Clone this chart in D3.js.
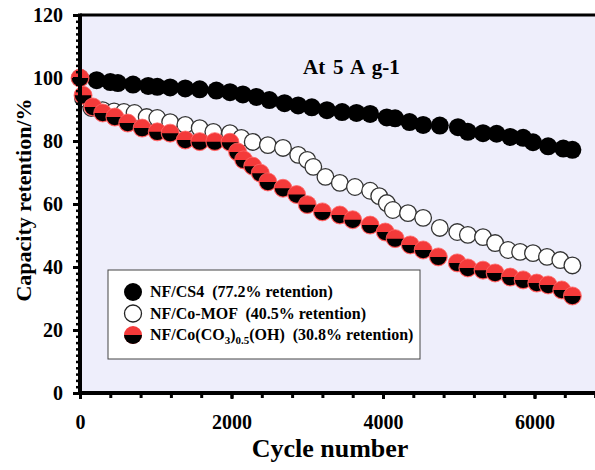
<!DOCTYPE html>
<html><head><meta charset="utf-8">
<script src="https://cdn.jsdelivr.net/npm/d3@7"></script>
<style>
html,body{margin:0;padding:0;background:#fff;}
svg{display:block;}
text{font-family:"Liberation Serif","Times New Roman",serif;font-weight:bold;}
</style></head>
<body>
<svg id="chart" width="595" height="470"></svg>
<script>
// ---- data ----
const xTicks = [0, 2000, 4000, 6000];
const yTicks = [0, 20, 40, 60, 80, 100, 120];

const cs4Cycles = [0,220,400,500,700,900,1020,1190,1390,1580,1800,1980,2150,2330,2500,2700,2880,3060,3260,3460,3650,3830,4050,4160,4350,4530,4750,4990,5120,5320,5500,5680,5850,5980,6180,6380,6500];
const cs4Values = [100,99.3,98.7,98.4,97.9,97.5,97.2,97.0,96.7,96.4,96.0,95.5,94.8,94.0,93.0,92.0,91.3,90.7,89.8,89.2,88.9,88.6,87.5,87.2,86.0,85.1,84.9,84.4,82.9,82.5,82.3,81.3,81.0,79.6,78.3,77.6,77.2];

const mofCycles = [40,150,300,450,580,720,880,1020,1190,1390,1580,1760,1980,2130,2280,2480,2680,2880,3000,3080,3240,3430,3630,3830,3950,4050,4130,4330,4530,4750,4980,5120,5320,5480,5650,5810,5980,6165,6340,6500];
const mofValues = [93.5,90.5,89.8,89.4,89.2,88.9,87.6,87.3,86.0,85.1,84.1,82.9,82.5,81.0,79.7,78.7,77.8,75.6,74.0,71.8,68.6,66.7,65.4,64.2,62.5,60.3,58.1,57.1,55.6,52.4,51.1,50.2,49.5,47.6,45.4,44.8,44.4,43.2,42.2,40.5];

const cohCycles = [0,40,170,300,460,630,820,1020,1190,1390,1580,1780,1980,2080,2160,2280,2380,2480,2680,2860,3000,3200,3430,3600,3830,4030,4160,4360,4530,4730,4980,5120,5320,5480,5680,5850,6030,6180,6360,6500];
const cohValues = [100,94.5,90.8,88.9,87.6,85.7,84.1,82.9,82.5,80.3,79.8,79.8,79.6,76.5,74.0,72.0,69.8,67.0,65.0,63.0,59.8,57.5,56.5,55.0,53.3,51.1,49.0,47.0,45.4,43.2,41.3,39.7,39.0,38.1,36.8,35.9,34.9,34.3,32.7,30.8];

const legendLabels = ["NF/CS4  (77.2% retention)", "NF/Co-MOF  (40.5% retention)", "NF/Co(CO3)0.5(OH)  (30.8% retention)"];
const annotation = "At 5 A g-1";

// ---- layout ----
const svg = d3.select("#chart");
const pLeft = 80, pTop = 15, pBottom = 393;
const x = d3.scaleLinear().domain([0, 7000]).range([pLeft, pLeft + 7000 * 0.07575]);
const y = d3.scaleLinear().domain([0, 120]).range([pBottom, pTop]);
const R = 9;

svg.append("rect").attr("x", pLeft).attr("y", pTop).attr("width", 600 - pLeft).attr("height", pBottom - pTop).attr("fill", "#eeeefb");

const zip = (a, b) => a.map((c, i) => [c, b[i]]);
const cs4 = zip(cs4Cycles, cs4Values), mof = zip(mofCycles, mofValues), coh = zip(cohCycles, cohValues);

// series
svg.append("g").selectAll("circle").data(cs4).join("circle")
  .attr("cx", d => x(d[0])).attr("cy", d => y(d[1])).attr("r", R)
  .attr("fill", "#000");
svg.append("g").selectAll("circle").data(mof).join("circle")
  .attr("cx", d => x(d[0])).attr("cy", d => y(d[1])).attr("r", R - 0.7)
  .attr("fill", "#fff").attr("stroke", "#333").attr("stroke-width", 1.3);
const halfArc = d3.arc().innerRadius(0).outerRadius(R - 0.8).startAngle(Math.PI / 2).endAngle(3 * Math.PI / 2);
const gCoh = svg.append("g");
const cohG = gCoh.selectAll("g").data(coh).join("g")
  .attr("transform", d => `translate(${x(d[0])},${y(d[1])})`);
cohG.append("circle").attr("r", R).attr("fill", "#f43a3a").attr("stroke", "#f66").attr("stroke-width", 0.8);
cohG.append("path").attr("d", halfArc).attr("fill", "#000");

// axes
const xMinor = d3.range(0, 6801, 400);
const yMinor = d3.range(0, 121, 2);
svg.append("g").attr("transform", `translate(0,${pBottom})`)
  .call(d3.axisBottom(x).tickValues(xMinor).tickSize(5).tickFormat(""))
  .call(g => g.select(".domain").remove())
  .call(g => g.selectAll("line").attr("stroke-width", 3));
svg.append("g").attr("transform", `translate(${pLeft},0)`)
  .call(d3.axisLeft(y).tickValues(yMinor).tickSize(4).tickFormat(""))
  .call(g => g.select(".domain").remove())
  .call(g => g.selectAll("line").attr("stroke-width", 2.5));
const xAx = svg.append("g").attr("transform", `translate(0,${pBottom})`)
  .call(d3.axisBottom(x).tickValues(xTicks).tickSize(6).tickPadding(16).tickFormat(d3.format("d")))
  .call(g => g.select(".domain").remove());
xAx.selectAll("line").attr("stroke-width", 3);
xAx.selectAll("text").attr("font-size", 20).attr("fill", "#000").style("font-family", '"Liberation Serif",serif').style("font-weight", "bold");
const yAx = svg.append("g").attr("transform", `translate(${pLeft},0)`)
  .call(d3.axisLeft(y).tickValues(yTicks).tickSize(7).tickPadding(10))
  .call(g => g.select(".domain").remove());
yAx.selectAll("line").attr("stroke-width", 3);
yAx.selectAll("text").attr("font-size", 20).attr("fill", "#000").style("font-family", '"Liberation Serif",serif').style("font-weight", "bold");

// frame
svg.append("line").attr("x1", pLeft).attr("x2", 600).attr("y1", pTop).attr("y2", pTop).attr("stroke", "#000").attr("stroke-width", 3);
svg.append("line").attr("x1", pLeft).attr("x2", 600).attr("y1", pBottom).attr("y2", pBottom).attr("stroke", "#000").attr("stroke-width", 4);
svg.append("line").attr("x1", pLeft).attr("x2", pLeft).attr("y1", pTop - 1.5).attr("y2", pBottom + 2).attr("stroke", "#000").attr("stroke-width", 4);

// titles
svg.append("text").attr("x", 330).attr("y", 457).attr("text-anchor", "middle").attr("font-size", 26).text("Cycle number");
svg.append("text").attr("transform", "translate(31,200) rotate(-90)").attr("text-anchor", "middle").attr("font-size", 22).text("Capacity retention/%");
svg.append("text").attr("x", 303).attr("y", 74).attr("font-size", 21).attr("word-spacing", 2.5).text(annotation);

// legend
const lg = svg.append("g");
lg.append("rect").attr("x", 108).attr("y", 270).attr("width", 312).attr("height", 89).attr("fill", "#fff").attr("stroke", "#444").attr("stroke-width", 1);
const rowsY = [292, 313.5, 335];
lg.append("circle").attr("cx", 133).attr("cy", rowsY[0]).attr("r", 9).attr("fill", "#000");
lg.append("circle").attr("cx", 133).attr("cy", rowsY[1]).attr("r", 8.5).attr("fill", "#fff").attr("stroke", "#222").attr("stroke-width", 1.3);
const lgc = lg.append("g").attr("transform", `translate(133,${rowsY[2]})`);
lgc.append("circle").attr("r", 9).attr("fill", "#f43a3a");
lgc.append("path").attr("d", d3.arc().innerRadius(0).outerRadius(9).startAngle(Math.PI / 2).endAngle(3 * Math.PI / 2)).attr("fill", "#000");
const tx = 150, fs = 16;
lg.append("text").attr("x", tx).attr("y", rowsY[0] + 5).attr("font-size", fs).style("white-space", "pre").text(legendLabels[0]);
lg.append("text").attr("x", tx).attr("y", rowsY[1] + 5).attr("font-size", fs).style("white-space", "pre").text(legendLabels[1]);
const t3 = lg.append("text").attr("x", tx).attr("y", rowsY[2] + 5).attr("font-size", fs).style("white-space", "pre");
t3.append("tspan").text("NF/Co(CO");
t3.append("tspan").attr("font-size", 11).attr("dy", 4).text("3");
t3.append("tspan").attr("dy", -4).text(")");
t3.append("tspan").attr("font-size", 11).attr("dy", 4).text("0.5");
t3.append("tspan").attr("dy", -4).text("(OH)  (30.8% retention)");
</script>
</body></html>
